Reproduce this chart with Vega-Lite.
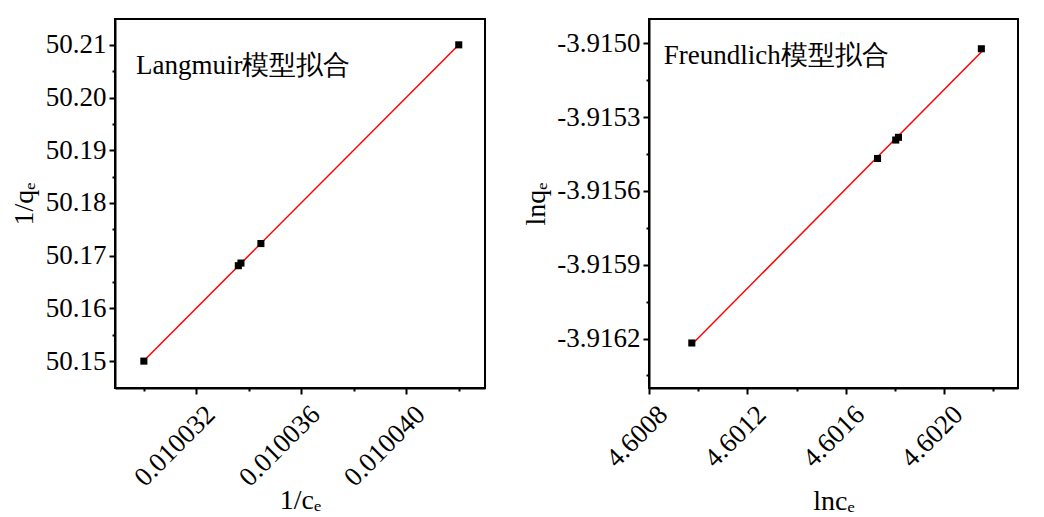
{
  "$schema": "https://vega.github.io/schema/vega-lite/v6.json",
  "background": "white",
  "padding": {"left": 9, "top": 18, "right": 20, "bottom": 5},
  "spacing": 35,
  "config": {
    "font": "Liberation Serif",
    "view": {"stroke": "black", "strokeWidth": 2},
    "axis": {
      "grid": false,
      "domainColor": "black",
      "domainWidth": 2,
      "tickColor": "black",
      "tickWidth": 2,
      "labelColor": "black",
      "labelFont": "Liberation Serif",
      "labelFontSize": 27,
      "labelOverlap": false,
      "labelFlush": false,
      "labelPadding": 3,
      "titleFont": "Liberation Serif",
      "titleFontSize": 28,
      "titleFontWeight": "normal",
      "titleColor": "black"
    }
  },
  "datasets": {
    "langmuir": [
      {"inv_ce": 0.010030, "inv_qe": 50.1500},
      {"inv_ce": 0.0100336, "inv_qe": 50.1681},
      {"inv_ce": 0.0100337, "inv_qe": 50.1686},
      {"inv_ce": 0.01003446, "inv_qe": 50.1723},
      {"inv_ce": 0.010042, "inv_qe": 50.2100}
    ],
    "freundlich": [
      {"lnce": 4.600974, "lnqe": -3.916218},
      {"lnce": 4.601729, "lnqe": -3.915468},
      {"lnce": 4.601803, "lnqe": -3.915393},
      {"lnce": 4.601814, "lnqe": -3.915382},
      {"lnce": 4.602151, "lnqe": -3.915022}
    ]
  },
  "hconcat": [
    {
      "width": 370,
      "height": 369,
      "data": {"name": "langmuir"},
      "encoding": {
        "x": {
          "field": "inv_ce", "type": "quantitative",
          "scale": {"domain": [0.0100289, 0.010043], "nice": false, "zero": false},
          "axis": {
            "title": "1/cₑ",
            "values": [0.010030, 0.010032, 0.010034, 0.010036, 0.010038, 0.010040, 0.010042],
            "labelExpr": "round(datum.value*1e6)%4==0 ? format(datum.value,'.6f') : ''",
            "tickSize": {"condition": {"test": "round(datum.value*1e6)%4==0", "value": 6}, "value": 3},
            "labelAngle": -45,
            "labelAlign": "right",
            "labelBaseline": "middle",
            "labelPadding": 16,
            "labelOffset": 14,
            "titlePadding": -4
          }
        },
        "y": {
          "field": "inv_qe", "type": "quantitative",
          "scale": {"domain": [50.1449, 50.2149], "nice": false, "zero": false},
          "axis": {
            "title": "1/qₑ",
            "values": [50.150, 50.155, 50.160, 50.165, 50.170, 50.175, 50.180, 50.185, 50.190, 50.195, 50.200, 50.205, 50.210],
            "labelExpr": "round(datum.value*1000)%10==0 ? format(datum.value,'.2f') : ''",
            "tickSize": {"condition": {"test": "round(datum.value*1000)%10==0", "value": 6}, "value": 3},
            "titlePadding": 7
          }
        }
      },
      "layer": [
        {
          "transform": [{"regression": "inv_qe", "on": "inv_ce"}],
          "mark": {"type": "line", "color": "#ff0000", "strokeWidth": 1.5}
        },
        {
          "mark": {"type": "point", "shape": "square", "filled": true, "color": "black", "size": 50, "opacity": 1}
        },
        {
          "transform": [{"filter": "datum.inv_ce > 0.01004"}],
          "mark": {"type": "text", "text": "Langmuir模型拟合", "align": "left", "baseline": "middle", "font": "Liberation Serif", "fontWeight": "normal", "fontSize": 27, "fill": "black", "strokeWidth": 0},
          "encoding": {
            "x": {"datum": 0.0100297, "type": "quantitative"},
            "y": {"datum": 50.206, "type": "quantitative"}
          }
        }
      ]
    },
    {
      "width": 369,
      "height": 369,
      "data": {"name": "freundlich"},
      "encoding": {
        "x": {
          "field": "lnce", "type": "quantitative",
          "scale": {"domain": [4.6008, 4.6023], "nice": false, "zero": false},
          "axis": {
            "title": "lncₑ",
            "values": [4.6008, 4.6010, 4.6012, 4.6014, 4.6016, 4.6018, 4.6020, 4.6022],
            "labelExpr": "round(datum.value*1e4)%4==0 ? format(datum.value,'.4f') : ''",
            "tickSize": {"condition": {"test": "round(datum.value*1e4)%4==0", "value": 6}, "value": 3},
            "labelAngle": -45,
            "labelAlign": "right",
            "labelBaseline": "middle",
            "labelPadding": 16,
            "labelOffset": 14,
            "titlePadding": 16
          }
        },
        "y": {
          "field": "lnqe", "type": "quantitative",
          "scale": {"domain": [-3.916401, -3.914901], "nice": false, "zero": false},
          "axis": {
            "title": "lnqₑ",
            "values": [-3.91635, -3.9162, -3.91605, -3.9159, -3.91575, -3.9156, -3.91545, -3.9153, -3.91515, -3.9150],
            "labelExpr": "abs(round(datum.value*1e5))%30==0 ? '-' + format(abs(datum.value),'.4f') : ''",
            "tickSize": {"condition": {"test": "abs(round(datum.value*1e5))%30==0", "value": 6}, "value": 3},
            "titlePadding": 6
          }
        }
      },
      "layer": [
        {
          "transform": [{"regression": "lnqe", "on": "lnce"}],
          "mark": {"type": "line", "color": "#ff0000", "strokeWidth": 1.5}
        },
        {
          "mark": {"type": "point", "shape": "square", "filled": true, "color": "black", "size": 50, "opacity": 1}
        },
        {
          "transform": [{"filter": "datum.lnce > 4.602"}],
          "mark": {"type": "text", "text": "Freundlich模型拟合", "align": "left", "baseline": "middle", "font": "Liberation Serif", "fontWeight": "normal", "fontSize": 27, "fill": "black", "strokeWidth": 0},
          "encoding": {
            "x": {"datum": 4.60086, "type": "quantitative"},
            "y": {"datum": -3.915052, "type": "quantitative"}
          }
        }
      ]
    }
  ]
}
